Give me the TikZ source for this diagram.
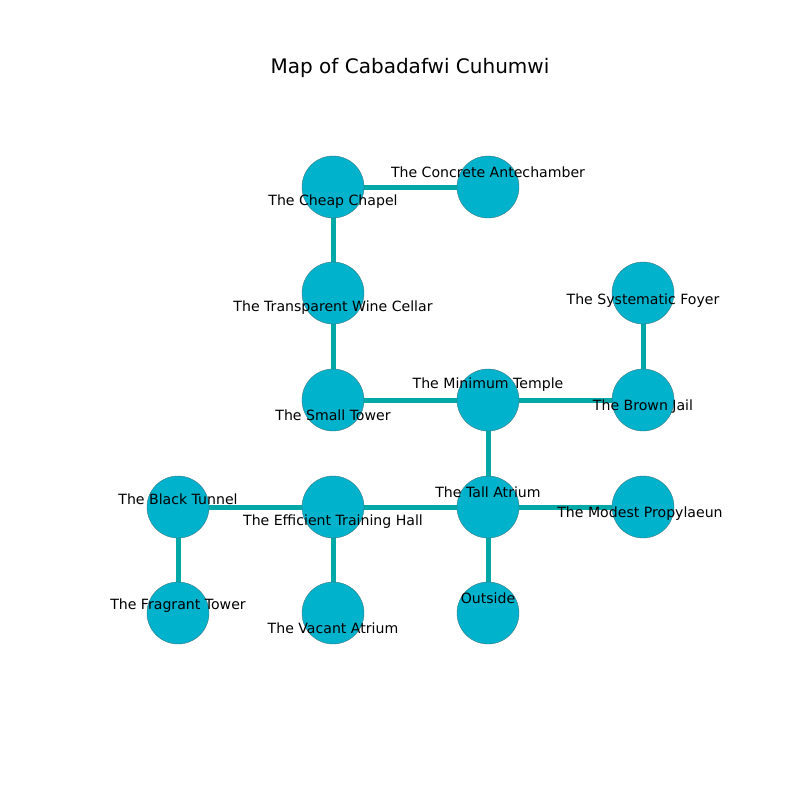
\documentclass[tikz,border=0pt]{standalone}
\usepackage{fontspec}
\setmainfont{DejaVu Sans}
\definecolor{nodefill}{RGB}{0,178,204}
\definecolor{nodeedge}{RGB}{60,120,130}
\definecolor{edgecol}{RGB}{0,168,168}
\begin{document}
\begin{tikzpicture}[x=1pt,y=-1pt,
  room/.style={circle,fill=nodefill,draw=nodeedge,line width=0.4pt,minimum size=62pt,inner sep=0pt},
  link/.style={draw=edgecol,line width=5pt},
  lab/.style={font=\fontsize{14.1}{16}\selectfont,text=black,inner sep=0pt,anchor=center,yshift=-1pt}]
\useasboundingbox (0,0) rectangle (800,800);
\fill[white] (0,0) rectangle (800,800);
\node[font=\fontsize{20}{24}\selectfont] (title) at (410,68) {Map of Cabadafwi Cuhumwi};
% node coordinates
\coordinate (cc) at (333,187);
\coordinate (ca) at (488,187);
\coordinate (tw) at (333,293);
\coordinate (sf) at (643,293);
\coordinate (st) at (333,400);
\coordinate (mt) at (488,400);
\coordinate (bj) at (643,400);
\coordinate (bt) at (178,507);
\coordinate (eh) at (333,507);
\coordinate (ta) at (488,507);
\coordinate (mp) at (643,507);
\coordinate (ft) at (178,613);
\coordinate (va) at (333,613);
\coordinate (ou) at (488,613);
% edges
\draw[link] (cc) -- (ca);
\draw[link] (cc) -- (tw);
\draw[link] (tw) -- (st);
\draw[link] (st) -- (mt);
\draw[link] (mt) -- (bj);
\draw[link] (bj) -- (sf);
\draw[link] (mt) -- (ta);
\draw[link] (bt) -- (eh);
\draw[link] (eh) -- (ta);
\draw[link] (ta) -- (mp);
\draw[link] (bt) -- (ft);
\draw[link] (eh) -- (va);
\draw[link] (ta) -- (ou);
% nodes
\foreach \n in {cc,ca,tw,sf,st,mt,bj,bt,eh,ta,mp,ft,va,ou}{\node[room] (n\n) at (\n) {};}
% labels
\node[lab] (lcc) at (333,201) {The Cheap Chapel};
\node[lab] (lca) at (488,171) {The Concrete Antechamber};
\node[lab] (ltw) at (333,307) {The Transparent Wine Cellar};
\node[lab] (lsf) at (643,300) {The Systematic Foyer};
\node[lab] (lst) at (333,414) {The Small Tower};
\node[lab] (lmt) at (488,384) {The Minimum Temple};
\node[lab] (lbj) at (643,406) {The Brown Jail};
\node[lab] (lbt) at (178,498) {The Black Tunnel};
\node[lab] (leh) at (333,521) {The Efficient Training Hall};
\node[lab] (lta) at (488,491) {The Tall Atrium};
\node[lab] (lmp) at (640,513) {The Modest Propylaeun};
\node[lab] (lft) at (178,605) {The Fragrant Tower};
\node[lab] (lva) at (333,627) {The Vacant Atrium};
\node[lab] (lou) at (488,597) {Outside};
\end{tikzpicture}
\end{document}
